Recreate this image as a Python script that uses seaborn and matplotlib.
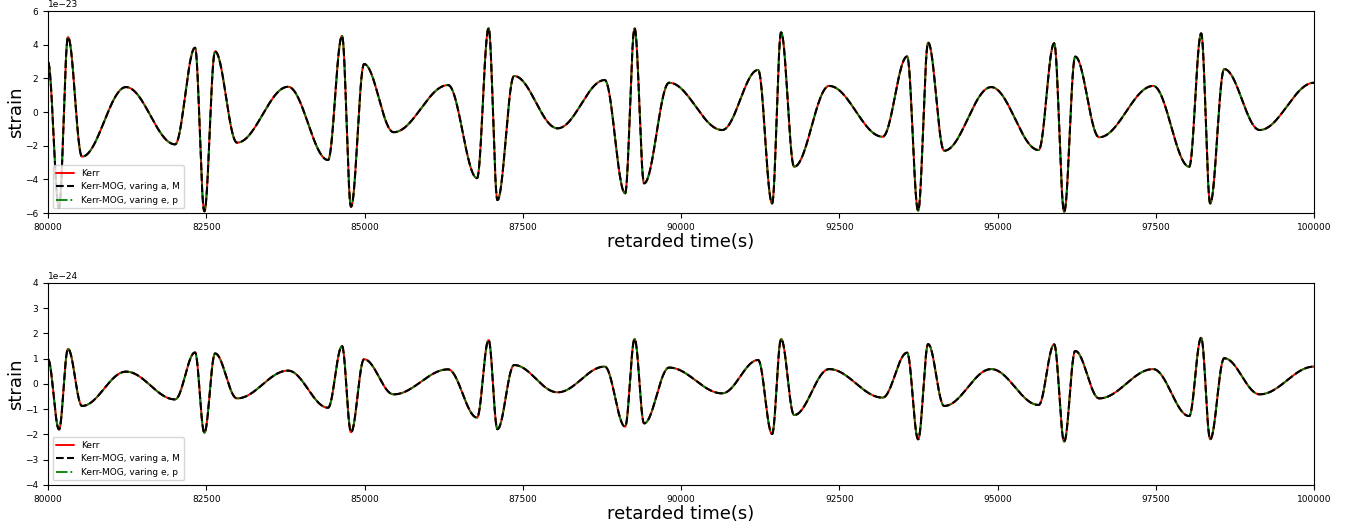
import numpy as np
import pandas as pd
import matplotlib
matplotlib.use("Agg")
import matplotlib.pyplot as plt
import seaborn as sns

# Turning points of the waveform (retarded time in s)
retarded_time = [
    80000, 80174, 80316, 80537, 81232, 82007, 82323, 82470, 82639, 82986,
    83792, 84424, 84645, 84787, 84993, 85460, 86320, 86778, 86960, 87100,
    87363, 88050, 88795, 89117, 89267, 89417, 89812, 90649, 91218, 91439,
    91581, 91787, 92340, 93185, 93572, 93746, 93904, 94157, 94900, 95650,
    95895, 96053, 96227, 96606, 97459, 98028, 98217, 98360, 98581, 99142,
    100000,
]

# Strain at those points, upper panel (x 1e-23)
strain_upper = [
    2.97, -5.7, 4.45, -2.65, 1.48, -1.92, 3.82, -5.9, 3.6, -1.82,
    1.5, -2.85, 4.52, -5.63, 2.85, -1.2, 1.6, -3.93, 4.98, -5.23,
    2.14, -0.97, 1.9, -4.83, 4.97, -4.24, 1.74, -1.07, 2.5, -5.43,
    4.73, -3.25, 1.55, -1.47, 3.3, -5.86, 4.12, -2.3, 1.48, -2.26,
    4.08, -5.93, 3.29, -1.5, 1.55, -3.25, 4.67, -5.43, 2.55, -1.07,
    1.74,
]

# Strain at those points, lower panel (x 1e-24)
strain_lower = [
    0.98, -1.8, 1.39, -0.87, 0.49, -0.61, 1.25, -1.93, 1.21, -0.57,
    0.53, -0.94, 1.5, -1.91, 0.98, -0.41, 0.58, -1.33, 1.74, -1.79,
    0.75, -0.33, 0.69, -1.69, 1.78, -1.56, 0.65, -0.37, 0.95, -1.98,
    1.78, -1.23, 0.59, -0.54, 1.24, -2.19, 1.58, -0.87, 0.59, -0.83,
    1.57, -2.28, 1.31, -0.57, 0.59, -1.27, 1.83, -2.19, 1.02, -0.41,
    0.69,
]

models = ["Kerr", "Kerr-MOG, varing a, M", "Kerr-MOG, varing e, p"]
model_colors = ["red", "black", "green"]
model_styles = ["-", "--", "-."]
model_widths = [1.4, 1.5, 1.3]
model_z = [2.0, 3.0, 2.5]


def trace(t, h, n=48):
    """Join successive turning points with half-cosine arcs."""
    ts, hs = [], []
    s = np.linspace(0.0, 1.0, n, endpoint=False)
    w = 0.5 - 0.5 * np.cos(np.pi * s)
    for i in range(len(t) - 1):
        ts.append(t[i] + (t[i + 1] - t[i]) * s)
        hs.append(h[i] + (h[i + 1] - h[i]) * w)
    ts.append([t[-1]])
    hs.append([h[-1]])
    return np.concatenate(ts), np.concatenate(hs)


sns.set_style("ticks", {
    "axes.edgecolor": "black",
    "xtick.color": "black",
    "ytick.color": "black",
    "text.color": "black",
    "axes.labelcolor": "black",
})
plt.rcParams["font.family"] = ["DejaVu Sans"]
plt.rcParams["axes.linewidth"] = 0.8

fig = plt.figure(figsize=(13.6, 5.27), dpi=100)
ax_top = fig.add_axes([0.0353, 0.5958, 0.9309, 0.3833])
ax_bot = fig.add_axes([0.0353, 0.0797, 0.9309, 0.3833])

panels = [
    (ax_top, strain_upper, 1e-23, 6, 2),
    (ax_bot, strain_lower, 1e-24, 4, 1),
]

for ax, strain, scale, ylim, ystep in panels:
    t_line, h_line = trace(np.asarray(retarded_time, float), np.asarray(strain, float))
    df = pd.DataFrame({"t": t_line, "h": h_line * scale})
    for name, col, ls, lw, z in zip(models, model_colors, model_styles, model_widths, model_z):
        sns.lineplot(data=df, x="t", y="h", ax=ax, color=col, linestyle=ls,
                     linewidth=lw, label=name, estimator=None, zorder=z)
    ax.set_xlim(80000, 100000)
    ax.set_ylim(-ylim * scale, ylim * scale)
    ax.set_xticks(np.arange(80000, 100001, 2500))
    ax.set_yticks(np.arange(-ylim, ylim + 0.5, ystep) * scale)
    ax.tick_params(axis="both", labelsize=6.5, length=3.5, width=0.8, direction="out")
    ax.yaxis.get_offset_text().set_fontsize(6.5)
    ax.set_xlabel("retarded time(s)", fontsize=13, labelpad=1)
    ax.set_ylabel("strain", fontsize=13, labelpad=0)
    ax.legend(loc="lower left", fontsize=6.5, frameon=True, fancybox=True,
              framealpha=0.8, edgecolor="0.8", borderpad=0.4, handlelength=2.0)

fig.savefig("out.png", dpi=100)
